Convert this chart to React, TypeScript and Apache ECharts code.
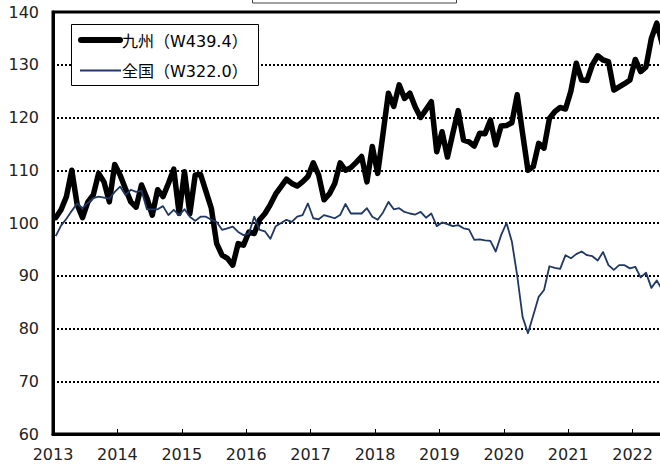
import React, { useEffect, useRef } from 'react';
import * as echarts from 'echarts';

// Year labels shown on the x axis (one per January)
const yearLabels = ['2013', '2014', '2015', '2016', '2017', '2018', '2019', '2020', '2021', '2022'];

// Series names (legend)
const seriesNames = ['九州（W439.4）', '全国（W322.0）'];

// Monthly index values from 2013-01 onward
const kyushu = [
  101, 102.5, 105, 110, 103.5, 101, 104, 105.3, 109.4, 107.8, 104, 111.1,
  109.1, 106.5, 104, 103, 107.2, 104.7, 101.5, 106.3, 105, 107.5, 110.2, 101.8,
  109.7, 101.8, 109.1, 109.2, 106, 102.8, 96.1, 93.9, 93.3, 92.0, 96.1, 95.8,
  98.3, 98.0, 100.6, 101.8, 103.5, 105.5, 106.9, 108.3, 107.5, 107, 107.8, 108.8,
  111.4, 109.1, 104.4, 105.5, 107.5, 111.4, 110, 110.5, 111.5, 112.6, 107.8, 114.5,
  109.4, 117, 124.6, 122.1, 126.2, 123.6, 124.6, 122, 120, 121.5, 123, 113.5,
  117.3, 112.5, 117, 121.3, 115.7, 115.4, 114.6, 117, 116.9, 119.5, 114.8, 118.4,
  118.5, 119, 124.3, 117, 110, 110.7, 115.1, 114.2, 119.8, 121.1, 121.9, 121.6,
  125, 130.3, 127.1, 127.0, 130, 131.7, 130.9, 130.6, 125.2, 125.8, 126.4, 127.1,
  131.0, 128.7, 129.6, 135, 137.9, 134,
];

const national = [
  97.5, 99.5, 100.8, 102.3, 103.7, 102.8, 103.8, 104.7, 105.0, 104.8, 104.6, 105.9,
  106.9, 105.3, 106.3, 105.9, 106.1, 102.6, 102.6, 102.6, 103.2, 101.5, 102.5, 101.5,
  102.6, 101.2, 100.4, 101.2, 101.2, 100.6, 100.2, 98.7, 99.0, 99.3, 98.3, 97.7,
  98.0, 101.2, 98.7, 98.4, 97.0, 99.4, 100.0, 100.6, 100.2, 101.2, 101.5, 103.7,
  100.9, 100.7, 101.5, 101.2, 100.9, 101.5, 103.6, 101.8, 101.8, 101.8, 102.8, 101.2,
  100.6, 102.0, 104.0, 102.6, 102.8, 102.1, 101.8, 101.6, 102.1, 101.0, 101.8, 99.4,
  100.1, 99.8, 99.4, 99.6, 99.0, 98.8, 96.8, 96.9, 96.7, 96.6, 94.6, 97.7,
  100.0, 96.5, 90, 82.2, 79.1, 82.5, 86.0, 87.3, 91.8, 91.5, 91.3, 93.9,
  93.3, 94.1, 94.6, 93.9, 93.7, 92.9, 94.5, 92.0, 91.1, 92.0, 92.0, 91.4,
  91.7, 89.7, 90.6, 87.7, 89.1, 87.4,
];

const FONT = "'DejaVu Sans', 'Noto Sans CJK JP', sans-serif";

export default function App() {
  const ref = useRef<HTMLDivElement>(null);

  useEffect(() => {
    if (!ref.current) return;
    const chart = echarts.init(ref.current, null, { renderer: 'svg' });
    const toPts = (arr: number[]) => arr.map((v, i) => [i + 0.5, v]);

    chart.setOption({
      animation: false,
      grid: {
        left: 53,
        top: 12,
        bottom: 38,
        right: 3,
        show: true,
        borderColor: '#000',
        borderWidth: 3,
        backgroundColor: 'transparent',
      },
      xAxis: {
        type: 'value',
        min: 0,
        max: 120,
        interval: 12,
        axisLine: { show: true, lineStyle: { color: '#000', width: 3 } },
        axisTick: { show: true, inside: true, length: 5, lineStyle: { color: '#000', width: 1 } },
        axisLabel: {
          formatter: (v: number) => {
            const k = v / 12;
            return Number.isInteger(k) && k >= 0 && k < yearLabels.length ? yearLabels[k] : '';
          },
          fontSize: 16,
          color: '#222',
          margin: 12,
          fontFamily: FONT,
          showMaxLabel: false,
        },
        splitLine: { show: false },
      },
      yAxis: {
        type: 'value',
        min: 60,
        max: 140,
        interval: 10,
        axisLine: { show: true, lineStyle: { color: '#000', width: 3 } },
        axisTick: { show: false },
        axisLabel: { fontSize: 16, color: '#222', margin: 14, fontFamily: FONT },
        splitLine: { show: true, lineStyle: { color: '#000', width: 2, type: [2, 2] } },
      },
      series: [
        {
          name: seriesNames[0],
          type: 'line',
          data: toPts(kyushu),
          showSymbol: false,
          symbol: 'none',
          lineStyle: { color: '#000', width: 5.5, join: 'round', cap: 'round' },
          z: 3,
        },
        {
          name: seriesNames[1],
          type: 'line',
          data: toPts(national),
          showSymbol: false,
          symbol: 'none',
          lineStyle: { color: '#203864', width: 1.8, join: 'round' },
          z: 4,
        },
      ],
      graphic: [
        {
          type: 'rect',
          z: 100,
          shape: { x: 252.5, y: -10, width: 204, height: 13 },
          style: { fill: '#fff', stroke: '#404040', lineWidth: 1 },
        },
        {
          type: 'rect',
          z: 100,
          shape: { x: 71.5, y: 24.5, width: 187, height: 61 },
          style: { fill: '#fff', stroke: '#000', lineWidth: 1 },
        },
        {
          type: 'line',
          z: 101,
          shape: { x1: 81, y1: 40, x2: 120, y2: 40 },
          style: { stroke: '#000', lineWidth: 6, lineCap: 'round' },
        },
        {
          type: 'text',
          z: 101,
          style: {
            text: seriesNames[0],
            x: 122,
            y: 41,
            fill: '#000',
            fontSize: 16,
            fontFamily: FONT,
            verticalAlign: 'middle',
          },
        },
        {
          type: 'line',
          z: 101,
          shape: { x1: 80, y1: 70.5, x2: 121, y2: 70.5 },
          style: { stroke: '#203864', lineWidth: 1.8 },
        },
        {
          type: 'text',
          z: 101,
          style: {
            text: seriesNames[1],
            x: 122,
            y: 71,
            fill: '#000',
            fontSize: 16,
            fontFamily: FONT,
            verticalAlign: 'middle',
          },
        },
      ],
    });

    return () => chart.dispose();
  }, []);

  return (
    <div
      style={{
        position: 'fixed',
        left: 0,
        top: 0,
        width: 660,
        height: 472,
        overflow: 'hidden',
        background: '#fff',
      }}
    >
      <div ref={ref} style={{ width: 700, height: 472 }} />
    </div>
  );
}
